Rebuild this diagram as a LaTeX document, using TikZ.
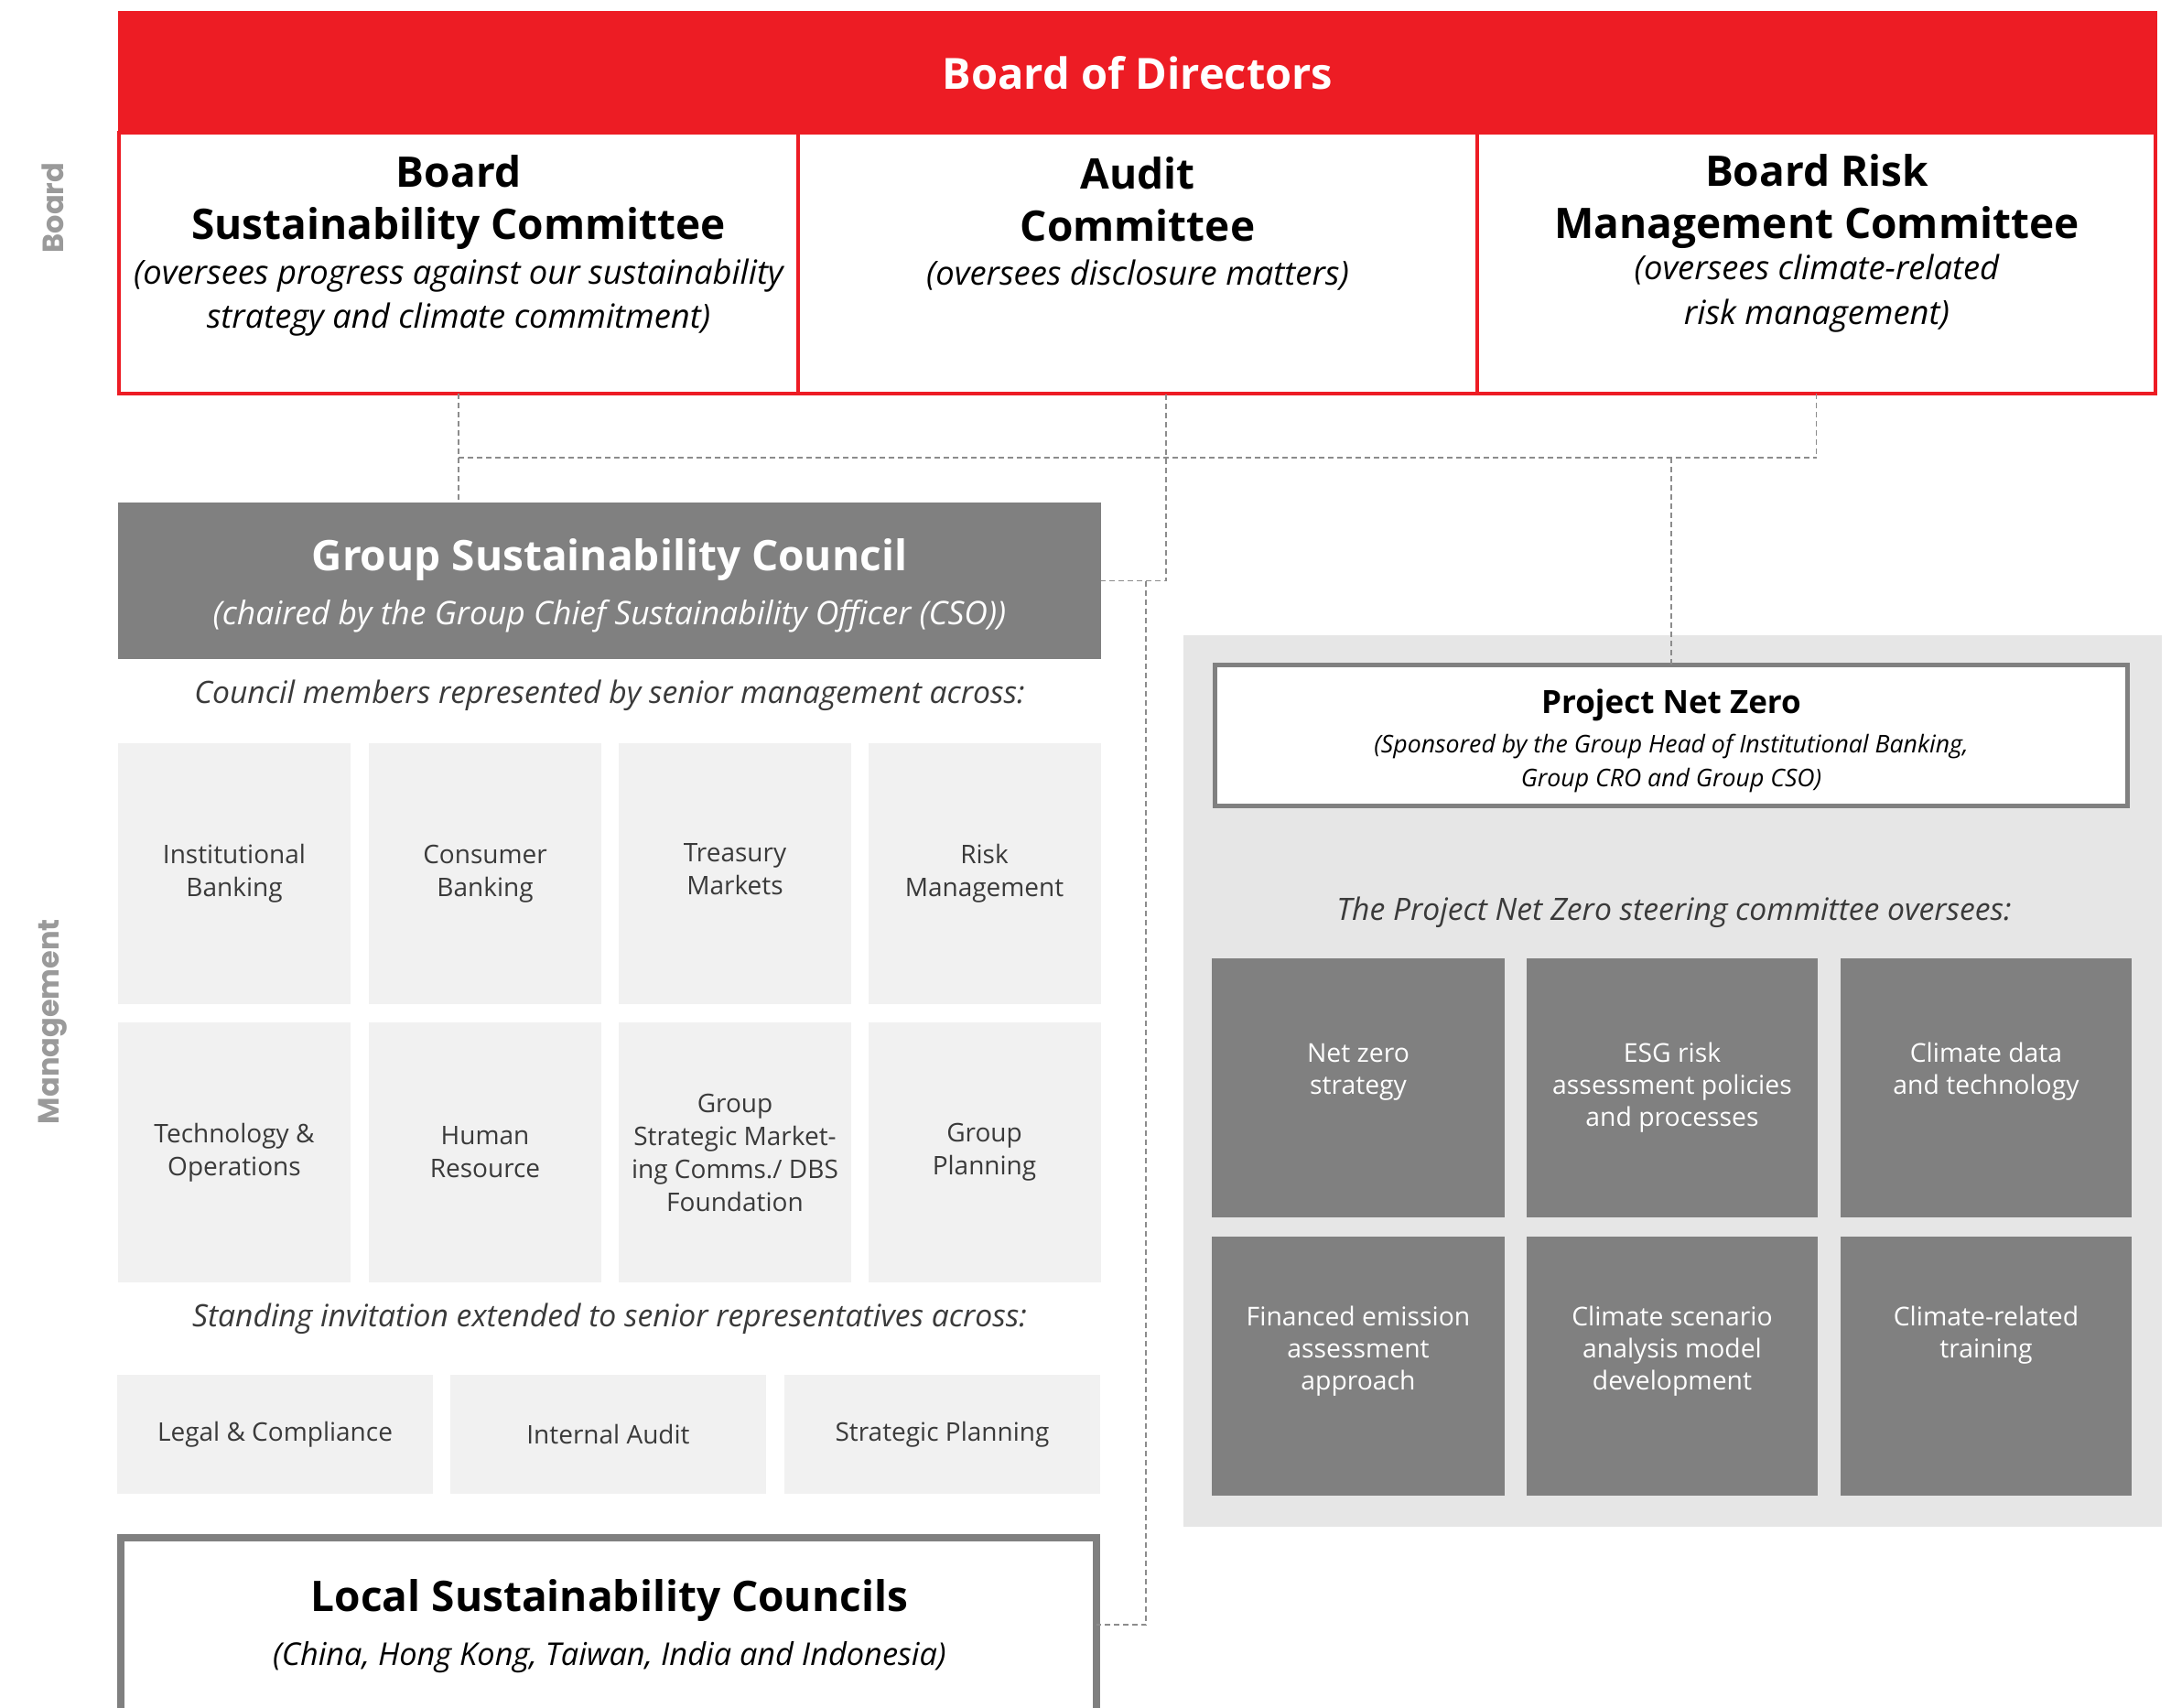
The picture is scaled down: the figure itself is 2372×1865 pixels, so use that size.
\documentclass[tikz,border=0pt]{standalone}
\usepackage{fontspec}
\setmainfont{Open Sans}
\newfontfamily\sidefont{Poppins}
\definecolor{dbsred}{HTML}{ED1C24}
\definecolor{dgray}{HTML}{808080}
\definecolor{lgray}{HTML}{F1F1F1}
\definecolor{panel}{HTML}{E6E6E6}
\definecolor{txtgray}{HTML}{3A3A3A}
\definecolor{dashgray}{HTML}{8C8C8C}
\definecolor{sidegray}{HTML}{9A9A9A}
\tikzset{
  every node/.style={inner sep=0pt, outer sep=0pt},
  box/.style n args={2}{rectangle, minimum width={#1*0.3pt}, minimum height={#2*0.3pt}},
  title/.style={font=\fontsize{13.8}{17.1}\selectfont\bfseries, align=center},
  sub/.style={font=\fontsize{10.9}{14.5}\selectfont\itshape, align=center},
  note/.style={font=\fontsize{10.1}{12}\selectfont\itshape, align=center, text=txtgray},
  frame/.style={draw=dbsred, line width=1.35pt, fill=white},
  cell/.style={fill=lgray, text=txtgray, font=\fontsize{8.4}{10.8}\selectfont, align=center},
  celltext/.style={text=txtgray, font=\fontsize{8.4}{10.8}\selectfont, align=center},
  dcell/.style={fill=dgray},
  dtext/.style={text=white, font=\fontsize{8.5}{10.5}\selectfont, align=center},
  side/.style={text=sidegray, font=\sidefont\bfseries\fontsize{9.6}{11}\selectfont, rotate=90},
  conn/.style={draw=dashgray, line width=0.5pt, dash pattern=on 1.8pt off 1.2pt}
}
\begin{document}
\begin{tikzpicture}[x=0.3pt,y=-0.3pt]
\useasboundingbox (0,0) rectangle (2372,1865);
\clip (0,0) rectangle (2372,1865);
\fill[white] (0,0) rectangle (2372,1865);

% side labels
\node[side] (lb) at (58,227) {Board};
\node[side] (lm) at (58,1116) {Management};

% board committees
\node[box={742}{285}, frame] (bsc) at (501,287.5) {};
\node[box={742}{285}, frame] (ac) at (1243,287.5) {};
\node[box={741}{285}, frame] (brmc) at (1984.5,287.5) {};
\node[box={2228}{135}, fill=dbsred, text=white, font=\fontsize{14.1}{17}\selectfont\bfseries] (bod) at (1243,79.5) {Board of Directors};

\node[title] (bsct) at (501,221) {Board\\Sustainability Committee};
\node[sub] (bscs) at (501,325) {(oversees progress against our sustainability\\strategy and climate commitment)};
\node[title] (act) at (1243,218) {Audit\\Committee};
\node[sub] (acs) at (1243,301) {(oversees disclosure matters)};
\node[title] (brmct) at (1985,220) {Board Risk\\Management Committee};
\node[sub] (brmcs) at (1985,320.5) {(oversees climate-related\\risk management)};

% group sustainability council
\node[box={1074}{171}, fill=dgray] (gsc) at (666,634.5) {};
\node[title, text=white] (gsct) at (666,611.5) {Group Sustainability Council};
\node[sub, font=\fontsize{10.65}{14}\selectfont\itshape, text=white] (gscs) at (666,673) {(chaired by the Group Chief Sustainability Officer (CSO))};
\node[note] (cm) at (666,760) {Council members represented by senior management across:};

\node[box={254}{285}, cell] (c11) at (256,954.5) {Institutional\\Banking};
\node[box={254}{285}, cell] (c12) at (530,954.5) {Consumer\\Banking};
\node[box={254}{285}, cell] (c13) at (803,954.5) {};
\node[celltext] (c13t) at (803,950) {Treasury\\Markets};
\node[box={254}{285}, cell] (c14) at (1075.5,954.5) {Risk\\Management};
\node[box={254}{284}, cell] (c21) at (256,1259) {Technology \&\\Operations};
\node[box={254}{284}, cell] (c22) at (530,1259) {Human\\Resource};
\node[box={254}{284}, cell] (c23) at (803,1259) {Group\\Strategic Market-\\ing Comms./ DBS\\Foundation};
\node[box={254}{284}, cell] (c24) at (1075.5,1259) {Group\\Planning};

\node[note] (si) at (666,1441) {Standing invitation extended to senior representatives across:};
\node[box={345}{130}, cell] (s1) at (300.5,1567) {Legal \& Compliance};
\node[box={345}{130}, cell] (s2) at (664.5,1567) {Internal Audit};
\node[box={345}{130}, cell] (s3) at (1029.5,1567) {Strategic Planning};

% local councils
\node[box={1066}{190}, draw=dgray, line width=2.4pt, fill=white] (lsc) at (665,1775) {};
\node[title] (lsct) at (666,1748.5) {Local Sustainability Councils};
\node[sub, font=\fontsize{10.3}{14}\selectfont\itshape] (lscs) at (666,1811) {(China, Hong Kong, Taiwan, India and Indonesia)};

% project net zero panel
\node[box={1069}{974}, fill=panel] (pan) at (1827.5,1181) {};
\node[box={997}{154}, draw=dgray, line width=1.5pt, fill=white] (pnz) at (1826,803.5) {};
\node[font=\fontsize{10.5}{13}\selectfont\bfseries] (pnzt) at (1826,770) {Project Net Zero};
\node[font=\fontsize{8}{11.1}\selectfont\itshape, align=center] (pnzs) at (1826,833.5) {(Sponsored by the Group Head of Institutional Banking,\\Group CRO and Group CSO)};
\node[note] (pov) at (1829,997) {The Project Net Zero steering committee oversees:};

\node[box={320}{283}, dcell] (d11) at (1484,1188.5) {};
\node[box={318}{283}, dcell] (d12) at (1827,1188.5) {};
\node[box={318}{283}, dcell] (d13) at (2170,1188.5) {};
\node[box={320}{283}, dcell] (d21) at (1484,1492.5) {};
\node[box={318}{283}, dcell] (d22) at (1827,1492.5) {};
\node[box={318}{283}, dcell] (d23) at (2170,1492.5) {};
\node[dtext] (t11) at (1484,1171) {Net zero\\strategy};
\node[dtext] (t12) at (1827,1188.5) {ESG risk\\assessment policies\\and processes};
\node[dtext] (t13) at (2170,1171) {Climate data\\and technology};
\node[dtext] (t21) at (1484,1476.5) {Financed emission\\assessment\\approach};
\node[dtext] (t22) at (1827,1476.5) {Climate scenario\\analysis model\\development};
\node[dtext] (t23) at (2170,1459) {Climate-related\\training};

% connectors
\coordinate (hy) at (0,500);
\coordinate (acd) at (1274,431);
\coordinate (lscd) at (1252,634.5);
\draw[conn] (bsc.south) -- (bsc.south |- gsc.north);
\draw[conn] (bsc.south |- hy) -- (brmc.south |- hy);
\draw[conn] (brmc.south) -- (brmc.south |- hy);
\draw[conn] (acd) |- (gsc.east);
\draw[conn] (pnz.north |- hy) -- (pnz.north);
\draw[conn] (lscd) |- (lsc.east);
\end{tikzpicture}
\end{document}
